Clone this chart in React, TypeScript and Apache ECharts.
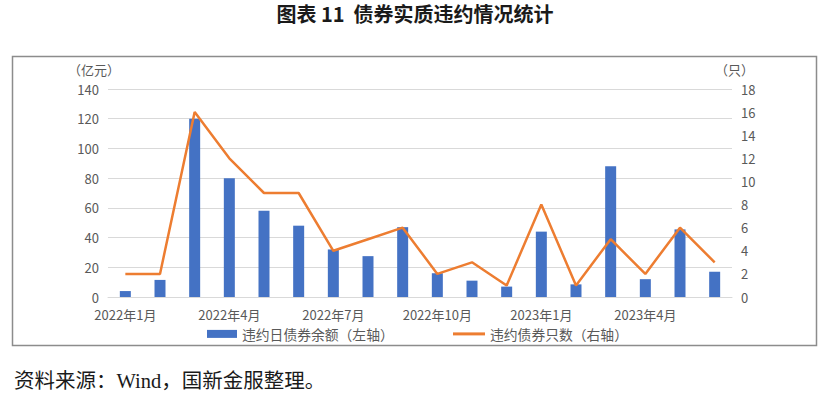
import React, { useEffect, useRef } from "react";
import * as echarts from "echarts";

const categories = [
  "2022年1月", "2022年2月", "2022年3月", "2022年4月", "2022年5月", "2022年6月",
  "2022年7月", "2022年8月", "2022年9月", "2022年10月", "2022年11月", "2022年12月",
  "2023年1月", "2023年2月", "2023年3月", "2023年4月", "2023年5月", "2023年6月",
];
const balanceValues = [4, 11.5, 120, 80, 58, 48, 32, 27.5, 47, 16, 11, 7, 44, 8.5, 88, 12, 45.5, 17];
const countValues = [2, 2, 16, 12, 9, 9, 4, 5, 6, 2, 3, 1, 8, 1, 5, 2, 6, 3];

const BAR_NAME = "违约日债券余额（左轴）";
const LINE_NAME = "违约债券只数（右轴）";
const TITLE = "图表 11  债券实质违约情况统计";
const SOURCE = "资料来源：Wind，国新金服整理。";
const LEFT_UNIT = "（亿元）";
const RIGHT_UNIT = "（只）";

const FONT = "'Noto Sans CJK SC', 'Noto Sans', sans-serif";

export default function App() {
  const ref = useRef<HTMLDivElement>(null);
  useEffect(() => {
    document.body.style.margin = "0";
    const chart = echarts.init(ref.current!, null, { renderer: "svg" });
    chart.setOption({
      animation: false,
      backgroundColor: "#ffffff",
      textStyle: { fontFamily: FONT },
      grid: { left: 108, right: 97, top: 89, bottom: 97, containLabel: false },
      legend: [
        {
          left: 207,
          top: 327,
          padding: 0,
          itemWidth: 30,
          itemHeight: 8,
          icon: "rect",
          data: [BAR_NAME],
          textStyle: { fontSize: 13.8, color: "#595959", fontFamily: FONT },
        },
        {
          left: 453,
          top: 327,
          padding: 0,
          itemWidth: 32,
          itemHeight: 3,
          data: [{ name: LINE_NAME, icon: "rect" }],
          textStyle: { fontSize: 13.8, color: "#595959", fontFamily: FONT },
        },
      ],
      xAxis: {
        type: "category",
        data: categories,
        axisTick: { show: false },
        axisLine: { lineStyle: { color: "#D9D9D9", width: 1 } },
        axisLabel: { interval: 2, color: "#595959", fontSize: 13, margin: 11, fontFamily: FONT },
      },
      yAxis: [
        {
          type: "value",
          min: 0,
          max: 140,
          interval: 20,
          axisLine: { show: false },
          axisTick: { show: false },
          axisLabel: { color: "#595959", fontSize: 13, margin: 9, fontFamily: FONT },
          splitLine: { lineStyle: { color: "#D9D9D9", width: 1 } },
        },
        {
          type: "value",
          min: 0,
          max: 18,
          interval: 2,
          axisLine: { show: false },
          axisTick: { show: false },
          axisLabel: { color: "#595959", fontSize: 13, margin: 9, fontFamily: FONT },
          splitLine: { show: false },
        },
      ],
      series: [
        {
          name: BAR_NAME,
          type: "bar",
          data: balanceValues,
          barWidth: 11,
          itemStyle: { color: "#4472C4" },
        },
        {
          name: LINE_NAME,
          type: "line",
          yAxisIndex: 1,
          data: countValues,
          symbol: "none",
          itemStyle: { color: "#ED7D31" },
          lineStyle: { color: "#ED7D31", width: 2.5 },
        },
      ],
      graphic: [
        {
          type: "rect",
          shape: { x: 12.5, y: 56.5, width: 804, height: 289 },
          style: { fill: "none", stroke: "#8c8c8c", lineWidth: 1.5 },
          silent: true,
        },
        {
          type: "text",
          x: 415,
          y: 13,
          style: {
            text: TITLE,
            fontSize: 20,
            fontWeight: "bold",
            fill: "#1a1a1a",
            fontFamily: FONT,
            align: "center",
            verticalAlign: "middle",
          },
        },
        {
          type: "text",
          x: 68,
          y: 69,
          style: { text: LEFT_UNIT, fontSize: 13, fill: "#595959", fontFamily: FONT, verticalAlign: "middle" },
        },
        {
          type: "text",
          x: 715,
          y: 69,
          style: { text: RIGHT_UNIT, fontSize: 13, fill: "#595959", fontFamily: FONT, verticalAlign: "middle" },
        },
        {
          type: "text",
          x: 14,
          y: 381,
          style: {
            text: SOURCE,
            fontSize: 20.5,
            fill: "#1a1a1a",
            fontFamily: "'Liberation Serif', 'Noto Sans CJK SC', serif",
            verticalAlign: "middle",
          },
        },
      ],
    });
    return () => chart.dispose();
  }, []);
  return <div ref={ref} style={{ position: "fixed", left: 0, top: 0, width: 829, height: 394 }} />;
}
